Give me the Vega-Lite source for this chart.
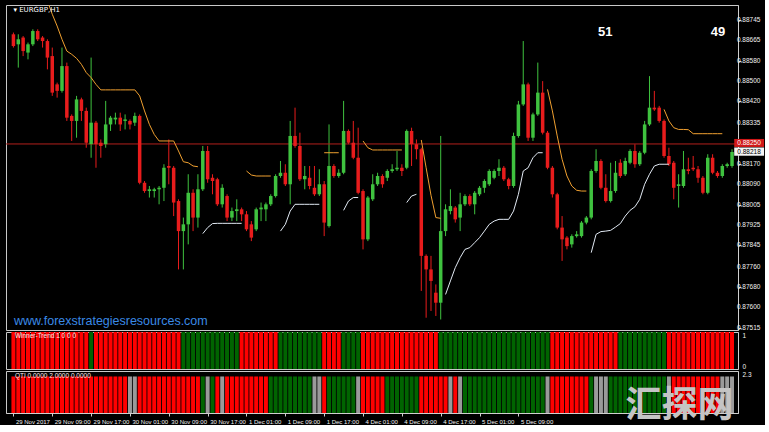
{
"$schema": "https://vega.github.io/schema/vega-lite/v6.json",
"background": "#000000",
"padding": {"left": 5, "top": 4, "right": 0, "bottom": 0},
"spacing": 2,
"bounds": "flush",
"config": {
  "view": {"stroke": "#c8c8c8", "strokeWidth": 1},
  "axis": {"labelColor": "#f0f0f0", "labelFont": "Liberation Sans", "labelFontSize": 6.5, "domainColor": "#d0d0d0", "tickColor": "#d0d0d0", "grid": false, "title": null, "tickSize": 3, "labelPadding": 2}
},
"resolve": {"scale": {"x": "independent", "y": "independent", "color": "independent"}},
"datasets": {
"one": [{}],
"ylab": [{"p":0.88745},{"p":0.88665},{"p":0.8858},{"p":0.885},{"p":0.8842},{"p":0.88335},{"p":0.8817},{"p":0.8809},{"p":0.88005},{"p":0.87925},{"p":0.87845},{"p":0.8776},{"p":0.8768},{"p":0.876},{"p":0.87515}],
"bars": [
{"i":0,"o":0.88688,"h":0.88695,"l":0.88635,"c":0.88641,"w":"d","q":"d"},
{"i":1,"o":0.88648,"h":0.88688,"l":0.88555,"c":0.88668,"w":"d","q":"d"},
{"i":2,"o":0.88675,"h":0.88681,"l":0.88601,"c":0.88621,"w":"d","q":"d"},
{"i":3,"o":0.88615,"h":0.88655,"l":0.88588,"c":0.88648,"w":"d","q":"d"},
{"i":4,"o":0.88648,"h":0.88708,"l":0.88641,"c":0.88701,"w":"d","q":"d"},
{"i":5,"o":0.88701,"h":0.88708,"l":0.88661,"c":0.88668,"w":"d","q":"d"},
{"i":6,"o":0.88675,"h":0.88681,"l":0.88635,"c":0.88661,"w":"d","q":"d"},
{"i":7,"o":0.88661,"h":0.88668,"l":0.88548,"c":0.88595,"w":"d","q":"d"},
{"i":8,"o":0.88601,"h":0.88635,"l":0.88442,"c":0.88455,"w":"d","q":"d"},
{"i":9,"o":0.88488,"h":0.88495,"l":0.88435,"c":0.88462,"w":"d","q":"d"},
{"i":10,"o":0.88462,"h":0.88635,"l":0.88455,"c":0.88561,"w":"d","q":"d"},
{"i":11,"o":0.88561,"h":0.88575,"l":0.88342,"c":0.88355,"w":"d","q":"d"},
{"i":12,"o":0.88362,"h":0.88368,"l":0.88262,"c":0.88342,"w":"d","q":"d"},
{"i":13,"o":0.88342,"h":0.88442,"l":0.88275,"c":0.88428,"w":"d","q":"d"},
{"i":14,"o":0.88428,"h":0.88435,"l":0.88342,"c":0.88382,"w":"d","q":"d"},
{"i":15,"o":0.88382,"h":0.88395,"l":0.88235,"c":0.88255,"w":"d","q":"d"},
{"i":16,"o":0.88249,"h":0.88595,"l":0.88195,"c":0.88335,"w":"u","q":"d"},
{"i":17,"o":0.88335,"h":0.88342,"l":0.88155,"c":0.88249,"w":"d","q":"d"},
{"i":18,"o":0.88255,"h":0.88268,"l":0.88195,"c":0.88242,"w":"d","q":"d"},
{"i":19,"o":0.88249,"h":0.88422,"l":0.88235,"c":0.88328,"w":"d","q":"d"},
{"i":20,"o":0.88328,"h":0.88362,"l":0.88302,"c":0.88355,"w":"d","q":"d"},
{"i":21,"o":0.88348,"h":0.88375,"l":0.88328,"c":0.88355,"w":"d","q":"d"},
{"i":22,"o":0.88355,"h":0.88375,"l":0.88302,"c":0.88328,"w":"d","q":"d"},
{"i":23,"o":0.88342,"h":0.88368,"l":0.88308,"c":0.88348,"w":"d","q":"d"},
{"i":24,"o":0.88342,"h":0.88348,"l":0.88308,"c":0.88328,"w":"d","q":"n"},
{"i":25,"o":0.88335,"h":0.88375,"l":0.88322,"c":0.88362,"w":"d","q":"n"},
{"i":26,"o":0.88362,"h":0.88368,"l":0.88089,"c":0.88095,"w":"d","q":"d"},
{"i":27,"o":0.88095,"h":0.88102,"l":0.88055,"c":0.88062,"w":"d","q":"d"},
{"i":28,"o":0.88062,"h":0.88082,"l":0.88036,"c":0.88069,"w":"d","q":"d"},
{"i":29,"o":0.88062,"h":0.88075,"l":0.88036,"c":0.88069,"w":"d","q":"d"},
{"i":30,"o":0.88069,"h":0.88082,"l":0.88009,"c":0.88075,"w":"d","q":"d"},
{"i":31,"o":0.88075,"h":0.88169,"l":0.88022,"c":0.88155,"w":"d","q":"d"},
{"i":32,"o":0.88162,"h":0.88268,"l":0.88089,"c":0.88155,"w":"d","q":"d"},
{"i":33,"o":0.88155,"h":0.88162,"l":0.87962,"c":0.88016,"w":"d","q":"d"},
{"i":34,"o":0.88022,"h":0.88029,"l":0.87749,"c":0.87902,"w":"d","q":"d"},
{"i":35,"o":0.87902,"h":0.87956,"l":0.87749,"c":0.87929,"w":"u","q":"d"},
{"i":36,"o":0.87929,"h":0.88129,"l":0.87849,"c":0.88055,"w":"u","q":"d"},
{"i":37,"o":0.88055,"h":0.88069,"l":0.87902,"c":0.87956,"w":"u","q":"d"},
{"i":38,"o":0.87956,"h":0.88129,"l":0.87916,"c":0.88069,"w":"u","q":"d"},
{"i":39,"o":0.88069,"h":0.88242,"l":0.88062,"c":0.88222,"w":"u","q":"u"},
{"i":40,"o":0.88222,"h":0.88242,"l":0.88095,"c":0.88109,"w":"u","q":"n"},
{"i":41,"o":0.88115,"h":0.88129,"l":0.88049,"c":0.88102,"w":"u","q":"u"},
{"i":42,"o":0.88109,"h":0.88115,"l":0.88002,"c":0.88009,"w":"u","q":"d"},
{"i":43,"o":0.88009,"h":0.88089,"l":0.87996,"c":0.88075,"w":"u","q":"n"},
{"i":44,"o":0.88042,"h":0.88049,"l":0.87942,"c":0.87956,"w":"u","q":"d"},
{"i":45,"o":0.87956,"h":0.87996,"l":0.87942,"c":0.87982,"w":"u","q":"d"},
{"i":46,"o":0.87982,"h":0.88029,"l":0.87942,"c":0.87989,"w":"u","q":"d"},
{"i":47,"o":0.87989,"h":0.87996,"l":0.87942,"c":0.87969,"w":"d","q":"d"},
{"i":48,"o":0.87969,"h":0.87982,"l":0.87902,"c":0.87909,"w":"d","q":"d"},
{"i":49,"o":0.87929,"h":0.87942,"l":0.87862,"c":0.87876,"w":"d","q":"d"},
{"i":50,"o":0.87909,"h":0.87996,"l":0.87902,"c":0.87989,"w":"d","q":"d"},
{"i":51,"o":0.87989,"h":0.88016,"l":0.87942,"c":0.87996,"w":"d","q":"d"},
{"i":52,"o":0.87989,"h":0.88016,"l":0.87942,"c":0.88009,"w":"d","q":"d"},
{"i":53,"o":0.88009,"h":0.88049,"l":0.88002,"c":0.88042,"w":"d","q":"u"},
{"i":54,"o":0.88042,"h":0.88129,"l":0.88036,"c":0.88122,"w":"d","q":"u"},
{"i":55,"o":0.88122,"h":0.88182,"l":0.88115,"c":0.88135,"w":"u","q":"u"},
{"i":56,"o":0.88135,"h":0.88169,"l":0.88082,"c":0.88089,"w":"u","q":"u"},
{"i":57,"o":0.88089,"h":0.88342,"l":0.88009,"c":0.88282,"w":"u","q":"u"},
{"i":58,"o":0.88282,"h":0.88395,"l":0.88235,"c":0.88242,"w":"u","q":"u"},
{"i":59,"o":0.88242,"h":0.88295,"l":0.88102,"c":0.88109,"w":"u","q":"u"},
{"i":60,"o":0.88109,"h":0.88162,"l":0.88069,"c":0.88122,"w":"u","q":"u"},
{"i":61,"o":0.88115,"h":0.88162,"l":0.88069,"c":0.88082,"w":"u","q":"u"},
{"i":62,"o":0.88075,"h":0.88162,"l":0.88042,"c":0.88049,"w":"u","q":"n"},
{"i":63,"o":0.88049,"h":0.88149,"l":0.88042,"c":0.88089,"w":"u","q":"n"},
{"i":64,"o":0.88089,"h":0.88102,"l":0.87882,"c":0.87936,"w":"d","q":"d"},
{"i":65,"o":0.87922,"h":0.88328,"l":0.87916,"c":0.88162,"w":"d","q":"u"},
{"i":66,"o":0.88162,"h":0.88169,"l":0.88115,"c":0.88122,"w":"d","q":"u"},
{"i":67,"o":0.88122,"h":0.88149,"l":0.88115,"c":0.88135,"w":"d","q":"u"},
{"i":68,"o":0.88135,"h":0.88422,"l":0.88129,"c":0.88302,"w":"u","q":"u"},
{"i":69,"o":0.88302,"h":0.88308,"l":0.88249,"c":0.88255,"w":"u","q":"u"},
{"i":70,"o":0.88255,"h":0.88342,"l":0.88189,"c":0.88195,"w":"u","q":"u"},
{"i":71,"o":0.88195,"h":0.88315,"l":0.88049,"c":0.88055,"w":"u","q":"n"},
{"i":72,"o":0.88062,"h":0.88069,"l":0.87829,"c":0.87869,"w":"d","q":"d"},
{"i":73,"o":0.87869,"h":0.88042,"l":0.87862,"c":0.88036,"w":"d","q":"d"},
{"i":74,"o":0.88029,"h":0.88129,"l":0.88022,"c":0.88089,"w":"d","q":"d"},
{"i":75,"o":0.88089,"h":0.88135,"l":0.88082,"c":0.88122,"w":"d","q":"d"},
{"i":76,"o":0.88122,"h":0.88129,"l":0.88075,"c":0.88089,"w":"d","q":"d"},
{"i":77,"o":0.88115,"h":0.88149,"l":0.88102,"c":0.88142,"w":"d","q":"u"},
{"i":78,"o":0.88142,"h":0.88169,"l":0.88135,"c":0.88149,"w":"d","q":"u"},
{"i":79,"o":0.88149,"h":0.88222,"l":0.88142,"c":0.88155,"w":"d","q":"u"},
{"i":80,"o":0.88155,"h":0.88169,"l":0.88122,"c":0.88142,"w":"d","q":"u"},
{"i":81,"o":0.88155,"h":0.88308,"l":0.88149,"c":0.88302,"w":"d","q":"u"},
{"i":82,"o":0.88302,"h":0.88315,"l":0.88162,"c":0.88249,"w":"d","q":"u"},
{"i":83,"o":0.88249,"h":0.88268,"l":0.88189,"c":0.88229,"w":"d","q":"u"},
{"i":84,"o":0.88229,"h":0.88235,"l":0.87663,"c":0.87803,"w":"d","q":"d"},
{"i":85,"o":0.87803,"h":0.87809,"l":0.87556,"c":0.87749,"w":"d","q":"d"},
{"i":86,"o":0.87749,"h":0.87803,"l":0.87583,"c":0.87703,"w":"d","q":"d"},
{"i":87,"o":0.87656,"h":0.87689,"l":0.87563,"c":0.87616,"w":"d","q":"d"},
{"i":88,"o":0.87616,"h":0.88282,"l":0.87549,"c":0.87902,"w":"u","q":"d"},
{"i":89,"o":0.87902,"h":0.88009,"l":0.87882,"c":0.87989,"w":"u","q":"d"},
{"i":90,"o":0.87982,"h":0.88069,"l":0.87969,"c":0.88002,"w":"u","q":"n"},
{"i":91,"o":0.87996,"h":0.88002,"l":0.87936,"c":0.87949,"w":"u","q":"d"},
{"i":92,"o":0.87956,"h":0.88055,"l":0.87902,"c":0.88009,"w":"u","q":"n"},
{"i":93,"o":0.88009,"h":0.88049,"l":0.88002,"c":0.88042,"w":"u","q":"u"},
{"i":94,"o":0.88042,"h":0.88049,"l":0.88002,"c":0.88009,"w":"u","q":"u"},
{"i":95,"o":0.88009,"h":0.88062,"l":0.87969,"c":0.88055,"w":"u","q":"u"},
{"i":96,"o":0.88049,"h":0.88082,"l":0.88042,"c":0.88075,"w":"u","q":"u"},
{"i":97,"o":0.88075,"h":0.88109,"l":0.88055,"c":0.88102,"w":"u","q":"u"},
{"i":98,"o":0.88089,"h":0.88149,"l":0.88082,"c":0.88142,"w":"u","q":"u"},
{"i":99,"o":0.88115,"h":0.88149,"l":0.88109,"c":0.88142,"w":"u","q":"u"},
{"i":100,"o":0.88142,"h":0.88189,"l":0.88122,"c":0.88155,"w":"u","q":"u"},
{"i":101,"o":0.88155,"h":0.88162,"l":0.88102,"c":0.88109,"w":"u","q":"u"},
{"i":102,"o":0.88109,"h":0.88115,"l":0.88069,"c":0.88082,"w":"u","q":"u"},
{"i":103,"o":0.88082,"h":0.88295,"l":0.88075,"c":0.88282,"w":"u","q":"u"},
{"i":104,"o":0.88282,"h":0.88422,"l":0.88275,"c":0.88408,"w":"u","q":"u"},
{"i":105,"o":0.88408,"h":0.88661,"l":0.88402,"c":0.88488,"w":"u","q":"u"},
{"i":106,"o":0.88488,"h":0.88495,"l":0.88262,"c":0.88275,"w":"u","q":"u"},
{"i":107,"o":0.88275,"h":0.88375,"l":0.88262,"c":0.88368,"w":"u","q":"u"},
{"i":108,"o":0.88368,"h":0.88575,"l":0.88362,"c":0.88455,"w":"u","q":"u"},
{"i":109,"o":0.88455,"h":0.88501,"l":0.88288,"c":0.88295,"w":"u","q":"u"},
{"i":110,"o":0.88295,"h":0.88302,"l":0.88149,"c":0.88155,"w":"u","q":"n"},
{"i":111,"o":0.88155,"h":0.88162,"l":0.88036,"c":0.88049,"w":"d","q":"d"},
{"i":112,"o":0.88049,"h":0.88055,"l":0.87909,"c":0.87916,"w":"d","q":"d"},
{"i":113,"o":0.87916,"h":0.87962,"l":0.87783,"c":0.87869,"w":"d","q":"d"},
{"i":114,"o":0.87876,"h":0.87882,"l":0.87829,"c":0.87842,"w":"d","q":"d"},
{"i":115,"o":0.87849,"h":0.87889,"l":0.87836,"c":0.87882,"w":"d","q":"d"},
{"i":116,"o":0.87882,"h":0.87902,"l":0.87876,"c":0.87889,"w":"d","q":"d"},
{"i":117,"o":0.87882,"h":0.87942,"l":0.87876,"c":0.87936,"w":"d","q":"d"},
{"i":118,"o":0.87936,"h":0.87962,"l":0.87929,"c":0.87956,"w":"d","q":"d"},
{"i":119,"o":0.87956,"h":0.88149,"l":0.87949,"c":0.88142,"w":"d","q":"u"},
{"i":120,"o":0.88142,"h":0.88229,"l":0.88135,"c":0.88182,"w":"d","q":"n"},
{"i":121,"o":0.88182,"h":0.88189,"l":0.88069,"c":0.88075,"w":"d","q":"n"},
{"i":122,"o":0.88075,"h":0.88129,"l":0.88016,"c":0.88022,"w":"d","q":"n"},
{"i":123,"o":0.88022,"h":0.88175,"l":0.88016,"c":0.88062,"w":"d","q":"u"},
{"i":124,"o":0.88062,"h":0.88182,"l":0.88055,"c":0.88135,"w":"d","q":"u"},
{"i":125,"o":0.88175,"h":0.88189,"l":0.88115,"c":0.88122,"w":"u","q":"u"},
{"i":126,"o":0.88129,"h":0.88195,"l":0.88122,"c":0.88182,"w":"u","q":"u"},
{"i":127,"o":0.88175,"h":0.88229,"l":0.88169,"c":0.88222,"w":"u","q":"u"},
{"i":128,"o":0.88222,"h":0.88249,"l":0.88155,"c":0.88169,"w":"u","q":"u"},
{"i":129,"o":0.88169,"h":0.88222,"l":0.88162,"c":0.88215,"w":"u","q":"u"},
{"i":130,"o":0.88215,"h":0.88342,"l":0.88209,"c":0.88328,"w":"u","q":"u"},
{"i":131,"o":0.88328,"h":0.88521,"l":0.88322,"c":0.88395,"w":"u","q":"u"},
{"i":132,"o":0.88395,"h":0.88462,"l":0.88382,"c":0.88388,"w":"u","q":"u"},
{"i":133,"o":0.88395,"h":0.88402,"l":0.88335,"c":0.88342,"w":"u","q":"u"},
{"i":134,"o":0.88342,"h":0.88348,"l":0.88195,"c":0.88202,"w":"u","q":"u"},
{"i":135,"o":0.88202,"h":0.88235,"l":0.88162,"c":0.88169,"w":"d","q":"n"},
{"i":136,"o":0.88175,"h":0.88182,"l":0.88029,"c":0.88075,"w":"d","q":"d"},
{"i":137,"o":0.88082,"h":0.88129,"l":0.87996,"c":0.88089,"w":"d","q":"d"},
{"i":138,"o":0.88082,"h":0.88222,"l":0.88075,"c":0.88149,"w":"d","q":"d"},
{"i":139,"o":0.88149,"h":0.88195,"l":0.88129,"c":0.88142,"w":"d","q":"d"},
{"i":140,"o":0.88155,"h":0.88202,"l":0.88142,"c":0.88149,"w":"d","q":"d"},
{"i":141,"o":0.88149,"h":0.88162,"l":0.88095,"c":0.88115,"w":"d","q":"d"},
{"i":142,"o":0.88115,"h":0.88122,"l":0.88049,"c":0.88055,"w":"d","q":"d"},
{"i":143,"o":0.88055,"h":0.88209,"l":0.88049,"c":0.88195,"w":"d","q":"d"},
{"i":144,"o":0.88195,"h":0.88209,"l":0.88129,"c":0.88135,"w":"d","q":"d"},
{"i":145,"o":0.88135,"h":0.88142,"l":0.88115,"c":0.88122,"w":"d","q":"d"},
{"i":146,"o":0.88122,"h":0.88169,"l":0.88115,"c":0.88162,"w":"d","q":"n"},
{"i":147,"o":0.88162,"h":0.88175,"l":0.88155,"c":0.88169,"w":"d","q":"n"},
{"i":148,"o":0.88162,"h":0.88229,"l":0.88155,"c":0.88218,"w":"d","q":"n"}
],
"stops": [
{"i":6,"v":0.88874,"s":"a","k":"up"},{"i":7,"v":0.88821,"s":"a","k":"up"},{"i":8,"v":0.88768,"s":"a","k":"up"},{"i":9,"v":0.88721,"s":"a","k":"up"},{"i":10,"v":0.88668,"s":"a","k":"up"},{"i":11,"v":0.88621,"s":"a","k":"up"},{"i":12,"v":0.88608,"s":"a","k":"up"},{"i":13,"v":0.88592,"s":"a","k":"up"},{"i":14,"v":0.88568,"s":"a","k":"up"},{"i":15,"v":0.88535,"s":"a","k":"up"},{"i":16,"v":0.88515,"s":"a","k":"up"},{"i":17,"v":0.88488,"s":"a","k":"up"},{"i":18,"v":0.88466,"s":"a","k":"up"},{"i":19,"v":0.88466,"s":"a","k":"up"},{"i":20,"v":0.88466,"s":"a","k":"up"},{"i":21,"v":0.88466,"s":"a","k":"up"},{"i":22,"v":0.88466,"s":"a","k":"up"},{"i":23,"v":0.88466,"s":"a","k":"up"},{"i":24,"v":0.88466,"s":"a","k":"up"},{"i":25,"v":0.88466,"s":"a","k":"up"},{"i":26,"v":0.88442,"s":"a","k":"up"},{"i":27,"v":0.88382,"s":"a","k":"up"},{"i":28,"v":0.88328,"s":"a","k":"up"},{"i":29,"v":0.88288,"s":"a","k":"up"},{"i":30,"v":0.88262,"s":"a","k":"up"},{"i":31,"v":0.88262,"s":"a","k":"up"},{"i":32,"v":0.88262,"s":"a","k":"up"},{"i":33,"v":0.88262,"s":"a","k":"up"},{"i":34,"v":0.88222,"s":"a","k":"up"},{"i":35,"v":0.88179,"s":"a","k":"up"},{"i":36,"v":0.88175,"s":"a","k":"up"},{"i":37,"v":0.88162,"s":"a","k":"up"},{"i":38,"v":0.88159,"s":"a","k":"up"},
{"i":48,"v":0.88142,"s":"b","k":"up"},{"i":49,"v":0.88126,"s":"b","k":"up"},{"i":50,"v":0.88122,"s":"b","k":"up"},{"i":51,"v":0.88122,"s":"b","k":"up"},{"i":52,"v":0.88122,"s":"b","k":"up"},{"i":53,"v":0.88122,"s":"b","k":"up"},
{"i":64,"v":0.88215,"s":"c","k":"up"},{"i":65,"v":0.88215,"s":"c","k":"up"},{"i":66,"v":0.88215,"s":"c","k":"up"},{"i":67,"v":0.88215,"s":"c","k":"up"},
{"i":72,"v":0.88262,"s":"d","k":"up"},{"i":73,"v":0.88235,"s":"d","k":"up"},{"i":74,"v":0.88226,"s":"d","k":"up"},{"i":75,"v":0.88226,"s":"d","k":"up"},{"i":76,"v":0.88226,"s":"d","k":"up"},{"i":77,"v":0.88226,"s":"d","k":"up"},{"i":78,"v":0.88226,"s":"d","k":"up"},{"i":79,"v":0.88226,"s":"d","k":"up"},{"i":80,"v":0.88226,"s":"d","k":"up"},
{"i":84,"v":0.88266,"s":"e","k":"up"},{"i":85,"v":0.88155,"s":"e","k":"up"},{"i":86,"v":0.88045,"s":"e","k":"up"},{"i":87,"v":0.87956,"s":"e","k":"up"},{"i":88,"v":0.87953,"s":"e","k":"up"},
{"i":110,"v":0.88468,"s":"f","k":"up"},{"i":111,"v":0.88382,"s":"f","k":"up"},{"i":112,"v":0.88282,"s":"f","k":"up"},{"i":113,"v":0.88189,"s":"f","k":"up"},{"i":114,"v":0.88122,"s":"f","k":"up"},{"i":115,"v":0.88082,"s":"f","k":"up"},{"i":116,"v":0.88065,"s":"f","k":"up"},{"i":117,"v":0.88062,"s":"f","k":"up"},{"i":118,"v":0.88062,"s":"f","k":"up"},
{"i":134,"v":0.88388,"s":"g","k":"up"},{"i":135,"v":0.88342,"s":"g","k":"up"},{"i":136,"v":0.88315,"s":"g","k":"up"},{"i":137,"v":0.88308,"s":"g","k":"up"},{"i":138,"v":0.88308,"s":"g","k":"up"},{"i":139,"v":0.88307,"s":"g","k":"up"},{"i":140,"v":0.88291,"s":"g","k":"up"},{"i":141,"v":0.88291,"s":"g","k":"up"},{"i":142,"v":0.88291,"s":"g","k":"up"},{"i":143,"v":0.88291,"s":"g","k":"up"},{"i":144,"v":0.88291,"s":"g","k":"up"},{"i":145,"v":0.88291,"s":"g","k":"up"},{"i":146,"v":0.88291,"s":"g","k":"up"},
{"i":39,"v":0.87892,"s":"h","k":"dn"},{"i":40,"v":0.87916,"s":"h","k":"dn"},{"i":41,"v":0.87932,"s":"h","k":"dn"},{"i":42,"v":0.87933,"s":"h","k":"dn"},{"i":43,"v":0.87933,"s":"h","k":"dn"},{"i":44,"v":0.87933,"s":"h","k":"dn"},{"i":45,"v":0.87933,"s":"h","k":"dn"},{"i":46,"v":0.87933,"s":"h","k":"dn"},{"i":47,"v":0.87933,"s":"h","k":"dn"},
{"i":55,"v":0.87902,"s":"i","k":"dn"},{"i":56,"v":0.87929,"s":"i","k":"dn"},{"i":57,"v":0.87982,"s":"i","k":"dn"},{"i":58,"v":0.88009,"s":"i","k":"dn"},{"i":59,"v":0.88009,"s":"i","k":"dn"},{"i":60,"v":0.88009,"s":"i","k":"dn"},{"i":61,"v":0.88009,"s":"i","k":"dn"},{"i":62,"v":0.88009,"s":"i","k":"dn"},{"i":63,"v":0.88009,"s":"i","k":"dn"},
{"i":68,"v":0.87985,"s":"j","k":"dn"},{"i":69,"v":0.88022,"s":"j","k":"dn"},{"i":70,"v":0.88036,"s":"j","k":"dn"},{"i":71,"v":0.88036,"s":"j","k":"dn"},
{"i":81,"v":0.88016,"s":"k","k":"dn"},{"i":82,"v":0.88042,"s":"k","k":"dn"},{"i":83,"v":0.88049,"s":"k","k":"dn"},
{"i":89,"v":0.87649,"s":"l","k":"dn"},{"i":90,"v":0.87703,"s":"l","k":"dn"},{"i":91,"v":0.87756,"s":"l","k":"dn"},{"i":92,"v":0.87796,"s":"l","k":"dn"},{"i":93,"v":0.87829,"s":"l","k":"dn"},{"i":94,"v":0.87836,"s":"l","k":"dn"},{"i":95,"v":0.87856,"s":"l","k":"dn"},{"i":96,"v":0.87876,"s":"l","k":"dn"},{"i":97,"v":0.87902,"s":"l","k":"dn"},{"i":98,"v":0.87929,"s":"l","k":"dn"},{"i":99,"v":0.87942,"s":"l","k":"dn"},{"i":100,"v":0.87949,"s":"l","k":"dn"},{"i":101,"v":0.87949,"s":"l","k":"dn"},{"i":102,"v":0.87949,"s":"l","k":"dn"},{"i":103,"v":0.87982,"s":"l","k":"dn"},{"i":104,"v":0.88049,"s":"l","k":"dn"},{"i":105,"v":0.88142,"s":"l","k":"dn"},{"i":106,"v":0.88155,"s":"l","k":"dn"},{"i":107,"v":0.88195,"s":"l","k":"dn"},{"i":108,"v":0.88215,"s":"l","k":"dn"},{"i":109,"v":0.88215,"s":"l","k":"dn"},
{"i":119,"v":0.87816,"s":"m","k":"dn"},{"i":120,"v":0.87889,"s":"m","k":"dn"},{"i":121,"v":0.879,"s":"m","k":"dn"},{"i":122,"v":0.87902,"s":"m","k":"dn"},{"i":123,"v":0.87905,"s":"m","k":"dn"},{"i":124,"v":0.87918,"s":"m","k":"dn"},{"i":125,"v":0.87932,"s":"m","k":"dn"},{"i":126,"v":0.87962,"s":"m","k":"dn"},{"i":127,"v":0.87985,"s":"m","k":"dn"},{"i":128,"v":0.87999,"s":"m","k":"dn"},{"i":129,"v":0.88029,"s":"m","k":"dn"},{"i":130,"v":0.88089,"s":"m","k":"dn"},{"i":131,"v":0.88129,"s":"m","k":"dn"},{"i":132,"v":0.88162,"s":"m","k":"dn"},{"i":133,"v":0.88169,"s":"m","k":"dn"},{"i":134,"v":0.88169,"s":"m","k":"dn"},{"i":135,"v":0.88169,"s":"m","k":"dn"}
]
},
"vconcat": [
{
  "width": 732, "height": 325,
  "layer": [
    {"data": {"name": "bars"},
     "mark": {"type": "rule", "strokeWidth": 1},
     "encoding": {
       "x": {"field": "i", "type": "quantitative", "scale": {"domain": [-0.5, 148.2], "nice": false, "zero": false}, "axis": null},
       "y": {"field": "l", "type": "quantitative", "scale": {"domain": [0.87507, 0.88805], "nice": false, "zero": false},
         "axis": {"orient": "right", "values": [0.88745, 0.88665, 0.8858, 0.885, 0.8842, 0.88335, 0.8817, 0.8809, 0.88005, 0.87925, 0.87845, 0.8776, 0.8768, 0.876, 0.87515], "labels": false}},
       "y2": {"field": "h"},
       "color": {"condition": {"test": "datum.c >= datum.o", "value": "#3fc23f"}, "value": "#e81c1c"}}},
    {"data": {"name": "one"},
     "mark": {"type": "rule", "color": "#b3201c", "strokeWidth": 1},
     "encoding": {"y": {"datum": 0.8825, "type": "quantitative"}}},
    {"data": {"name": "bars"},
     "mark": {"type": "bar", "width": 3.5},
     "encoding": {
       "x": {"field": "i", "type": "quantitative", "axis": null},
       "y": {"field": "o", "type": "quantitative"},
       "y2": {"field": "c"},
       "color": {"condition": {"test": "datum.c >= datum.o", "value": "#3fc23f"}, "value": "#e81c1c"}}},
    {"data": {"name": "stops"},
     "mark": {"type": "line", "strokeWidth": 1, "clip": true},
     "encoding": {
       "x": {"field": "i", "type": "quantitative", "axis": null},
       "y": {"field": "v", "type": "quantitative"},
       "detail": {"field": "s", "type": "nominal"},
       "color": {"field": "k", "type": "nominal", "scale": {"domain": ["up", "dn"], "range": ["#f0a030", "#e2eaf4"]}, "legend": null}}},
    {"data": {"name": "ylab"},
     "mark": {"type": "text", "align": "left", "baseline": "middle", "color": "#f0f0f0", "font": "Liberation Sans", "fontSize": 6.5},
     "encoding": {"x": {"datum": 149.0, "type": "quantitative", "axis": null}, "y": {"field": "p", "type": "quantitative"}, "text": {"field": "p", "type": "quantitative", "format": ".5f"}}},
    {"data": {"name": "one"},
     "mark": {"type": "text", "text": "▾ EURGBP,H1", "align": "left", "baseline": "middle", "color": "#ffffff", "font": "DejaVu Sans", "fontSize": 7},
     "encoding": {"x": {"datum": 0.0, "type": "quantitative", "axis": null}, "y": {"datum": 0.88785, "type": "quantitative"}}},
    {"data": {"name": "one"},
     "mark": {"type": "text", "text": "51", "align": "center", "baseline": "middle", "color": "#ffffff", "font": "Liberation Sans", "fontWeight": "bold", "fontSize": 13},
     "encoding": {"x": {"datum": 121.9, "type": "quantitative", "axis": null}, "y": {"datum": 0.88697, "type": "quantitative"}}},
    {"data": {"name": "one"},
     "mark": {"type": "text", "text": "49", "align": "center", "baseline": "middle", "color": "#ffffff", "font": "Liberation Sans", "fontWeight": "bold", "fontSize": 13},
     "encoding": {"x": {"datum": 145.1, "type": "quantitative", "axis": null}, "y": {"datum": 0.88697, "type": "quantitative"}}},
    {"data": {"name": "one"},
     "mark": {"type": "text", "text": "www.forexstrategiesresources.com", "align": "left", "baseline": "middle", "color": "#3a8ae6", "font": "Liberation Sans", "fontSize": 12.5},
     "encoding": {"x": {"datum": 0.1, "type": "quantitative", "axis": null}, "y": {"datum": 0.87543, "type": "quantitative"}}},
    {"data": {"name": "one"},
     "mark": {"type": "rect", "color": "#d01818"},
     "encoding": {"x": {"datum": 148.45, "type": "quantitative", "axis": null}, "x2": {"datum": 154.6}, "y": {"datum": 0.88238, "type": "quantitative"}, "y2": {"datum": 0.8827}}},
    {"data": {"name": "one"},
     "mark": {"type": "rect", "color": "#f4f4f4"},
     "encoding": {"x": {"datum": 148.45, "type": "quantitative", "axis": null}, "x2": {"datum": 154.6}, "y": {"datum": 0.88203, "type": "quantitative"}, "y2": {"datum": 0.88236}}},
    {"data": {"name": "one"},
     "mark": {"type": "text", "text": "0.88250", "align": "center", "baseline": "middle", "color": "#ffffff", "font": "Liberation Sans", "fontSize": 6.5},
     "encoding": {"x": {"datum": 151.5, "type": "quantitative", "axis": null}, "y": {"datum": 0.88254, "type": "quantitative"}}},
    {"data": {"name": "one"},
     "mark": {"type": "text", "text": "0.88218", "align": "center", "baseline": "middle", "color": "#000000", "font": "Liberation Sans", "fontSize": 6.5},
     "encoding": {"x": {"datum": 151.5, "type": "quantitative", "axis": null}, "y": {"datum": 0.88219, "type": "quantitative"}}}
  ]
},
{
  "width": 732, "height": 37,
  "layer": [
    {"data": {"name": "bars"},
     "mark": {"type": "bar", "width": 4},
     "encoding": {
       "x": {"field": "i", "type": "quantitative", "scale": {"domain": [-0.5, 148.2], "nice": false, "zero": false}, "axis": null},
       "y": {"datum": 1, "type": "quantitative", "scale": {"domain": [0, 1], "nice": false, "zero": false}, "axis": {"orient": "right", "values": [0, 1], "format": "d", "labelFlush": true, "tickSize": 0, "labelPadding": 4}},
       "y2": {"datum": 0},
       "color": {"field": "w", "type": "nominal", "scale": {"domain": ["d", "u"], "range": ["#ff0000", "#006400"]}, "legend": null}}},
    {"data": {"name": "one"},
     "mark": {"type": "text", "text": "Winner-Trend 1 0 0 0", "align": "left", "baseline": "top", "dy": 1, "color": "#ffe8e8", "font": "Liberation Sans", "fontSize": 6.5},
     "encoding": {"x": {"datum": 0.3, "type": "quantitative", "axis": null}, "y": {"datum": 1, "type": "quantitative"}}}
  ]
},
{
  "width": 732, "height": 42,
  "layer": [
    {"data": {"name": "bars"},
     "mark": {"type": "bar", "width": 4},
     "encoding": {
       "x": {"field": "i", "type": "quantitative", "scale": {"domain": [-0.5, 148.2], "nice": false, "zero": false},
         "axis": {"values": [0, 8, 16, 24, 32, 40, 48, 56, 64, 72, 80, 88, 96, 104], "labelExpr": "['29 Nov 2017','29 Nov 09:00','29 Nov 17:00','30 Nov 01:00','30 Nov 09:00','30 Nov 17:00','1 Dec 01:00','1 Dec 09:00','1 Dec 17:00','4 Dec 01:00','4 Dec 09:00','4 Dec 17:00','5 Dec 01:00','5 Dec 09:00'][datum.value / 8]", "labelAlign": "left", "labelFlush": false, "labelOffset": 2, "labelFontSize": 6, "tickSize": 3, "labelPadding": 2}},
       "y": {"datum": 2, "type": "quantitative", "scale": {"domain": [0, 2.3], "nice": false, "zero": false}, "axis": {"orient": "right", "values": [2.3], "format": ".1f", "labelFlush": true, "tickSize": 0, "labelPadding": 4}},
       "y2": {"datum": 0},
       "color": {"field": "q", "type": "nominal", "scale": {"domain": ["d", "u", "n"], "range": ["#ff0000", "#006400", "#9a9a9a"]}, "legend": null}}},
    {"data": {"name": "one"},
     "mark": {"type": "text", "text": "QTI 0.0000 2.0000 0.0000", "align": "left", "baseline": "top", "dy": 2, "color": "#ffe8e8", "font": "Liberation Sans", "fontSize": 6.5},
     "encoding": {"x": {"datum": 0.3, "type": "quantitative"}, "y": {"datum": 2.3, "type": "quantitative"}}},
    {"data": {"name": "one"},
     "mark": {"type": "text", "text": "汇探网", "align": "center", "baseline": "middle", "color": "#c4c4c4", "font": "Noto Sans CJK SC", "fontWeight": "bold", "fontSize": 36},
     "encoding": {"x": {"datum": 137.2, "type": "quantitative"}, "y": {"datum": 0.4, "type": "quantitative"}}}
  ]
}
]
}
